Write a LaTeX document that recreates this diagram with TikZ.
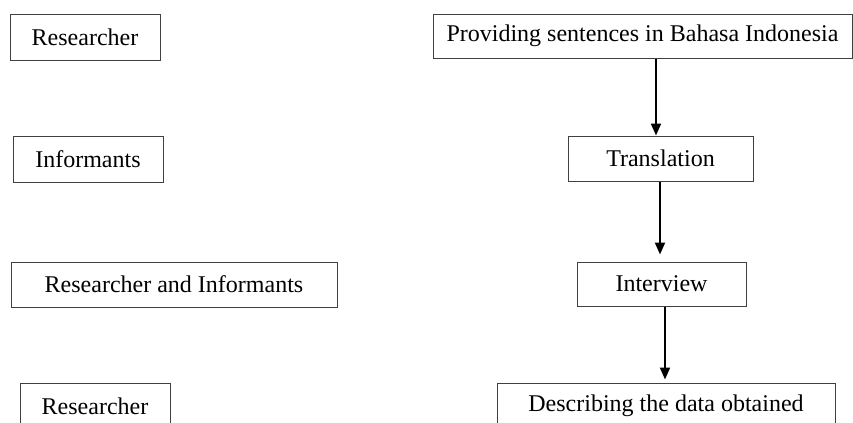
\documentclass[tikz,border=0pt]{standalone}
\usepackage{fontspec}
\setmainfont{Liberation Serif}
\usetikzlibrary{arrows.meta}
\begin{document}
\begin{tikzpicture}[x=0.5pt,y=-0.5pt,
  box/.style={draw=black!75,line width=0.5pt,inner sep=0pt,minimum height=23pt,font=\fontsize{12}{14}\selectfont},
  flow/.style={line width=1pt,-{Triangle[length=6pt,width=5pt]}}]
\clip (0,0) rectangle (853,423);
% roles
\node[box,minimum width=75pt] (res1) at (85,37) {Researcher};
\node[box,minimum width=75pt] (inf) at (88,159) {Informants};
\node[box,minimum width=163pt,minimum height=22.5pt] (resinf) at (174,284.5) {Researcher and Informants};
\node[box,minimum width=75pt] (res2) at (95,406) {Researcher};
% steps
\node[box,minimum width=209.5pt,minimum height=22pt] (prov) at (642.5,36) {Providing sentences in Bahasa Indonesia};
\node[box,minimum width=92.5pt,minimum height=22.5pt] (trans) at (660.5,158.5) {Translation};
\node[box,minimum width=84.5pt,minimum height=22pt] (inter) at (661.5,284) {Interview};
\node[box,minimum width=169pt] (desc) at (666,406) {Describing the data obtained};
\draw[flow] ([xshift=6.75pt]prov.south) -- ([xshift=-2.25pt]trans.north);
\draw[flow,shorten >=3.5pt] ([xshift=-0.25pt]trans.south) -- ([xshift=-0.75pt]inter.north);
\draw[flow,shorten >=1.5pt] ([xshift=1.75pt]inter.south) -- ([xshift=-0.5pt]desc.north);
\end{tikzpicture}
\end{document}
